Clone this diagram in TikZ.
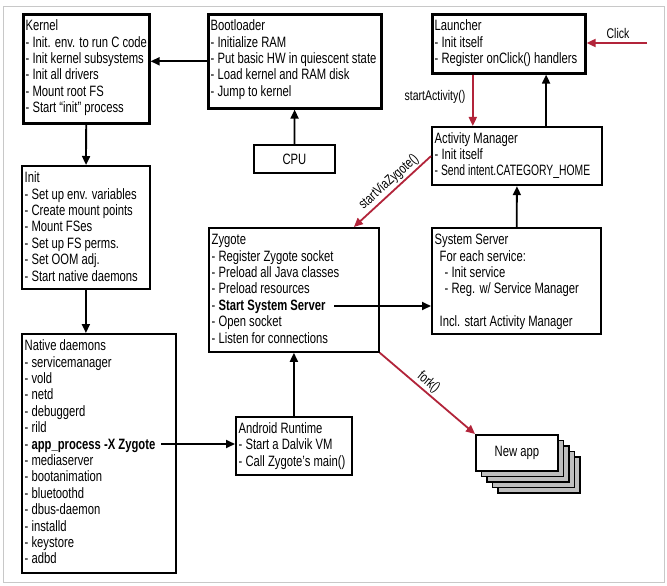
\documentclass[tikz,border=0pt]{standalone}
\usepackage{fontspec}
\usepackage{graphicx}
\setmainfont[FakeStretch=0.75]{Liberation Sans}
\usetikzlibrary{arrows.meta,calc}
\definecolor{cred}{RGB}{178,36,58}
\definecolor{framegray}{RGB}{200,200,200}
\definecolor{stackgray}{RGB}{190,190,190}
\newcommand{\fl}{\rule{0pt}{11bp}}
\begin{document}
\begin{tikzpicture}[x=1bp,y=-1bp,
  bx/.style={draw, inner sep=0pt, anchor=north west, line width=1.8bp},
  thickbx/.style={bx, line width=2.6bp},
  txt/.style={anchor=north west, inner sep=0pt, align=left, font=\fontsize{15bp}{16.4bp}\selectfont},
  ctxt/.style={font=\fontsize{15bp}{16.4bp}\selectfont},
  lbl/.style={inner sep=0pt, font=\fontsize{14bp}{16bp}\selectfont},
  arr/.style={line width=1.8bp, -{Triangle[length=9bp,width=8bp]}},
  rarr/.style={arr, draw=cred}]
\useasboundingbox (0,0) rectangle (667,586);
\fill[white] (0,0) rectangle (667,586);
\draw[framegray, line width=1bp] (3,7) rectangle (664,582);

% boxes
\node[thickbx, minimum width=126bp, minimum height=109bp] (kernel) at (22,13) {};
\node[thickbx, minimum width=173bp, minimum height=94bp] (boot) at (207,13) {};
\node[thickbx, minimum width=153bp, minimum height=59bp] (launcher) at (431,13) {};
\node[bx, line width=2.2bp, minimum width=170bp, minimum height=58bp] (am) at (431,126) {};
\node[bx, minimum width=128bp, minimum height=123bp] (init) at (21,165) {};
\node[bx, minimum width=81bp, minimum height=28bp, ctxt] (cpu) at (253,144) {CPU};
\node[bx, minimum width=170bp, minimum height=124bp] (zyg) at (208,227) {};
\node[bx, minimum width=169bp, minimum height=106bp] (ss) at (431,227) {};
\node[bx, minimum width=154bp, minimum height=239bp] (native) at (21,333) {};
\node[bx, minimum width=116bp, minimum height=58bp] (ar) at (235,416) {};
\foreach \k in {4,3,2,1}
  \node[bx, fill=stackgray, minimum width=82bp, minimum height=36bp] (app\k) at (475+5.5*\k,434+5.5*\k) {};
\node[bx, fill=white, minimum width=82bp, minimum height=36bp, ctxt] (app) at (475,434) {New app};

% texts
\node[txt] (kernelT) at (25.5,19.5) {\fl Kernel\\- Init. env. to run C code\\- Init kernel subsystems\\- Init all drivers\\- Mount root FS\\- Start “init” process};
\node[txt] (bootT) at (210.5,19.5) {\fl Bootloader\\- Initialize RAM\\- Put basic HW in quiescent state\\- Load kernel and RAM disk\\- Jump to kernel};
\node[txt] (launcherT) at (434.5,19.5) {\fl Launcher\\- Init itself\\- Register onClick() handlers};
\node[txt] (amT) at (434.5,132) {\fl Activity Manager\\- Init itself\\\scalebox{0.92}[1]{- Send intent.CATEGORY\_HOME}};
\node[txt] (initT) at (24.5,171.5) {\fl Init\\- Set up env. variables\\- Create mount points\\- Mount FSes\\- Set up FS perms.\\- Set OOM adj.\\- Start native daemons};
\node[txt] (zygT) at (211.5,233.5) {\fl Zygote\\- Register Zygote socket\\- Preload all Java classes\\- Preload resources\\- \textbf{Start System Server}\\- Open socket\\- Listen for connections};
\node[txt] (ssT) at (434.5,233.5) {\fl System Server\\\hspace*{5bp}For each service:\\\hspace*{10bp}- Init service\\\hspace*{10bp}- Reg. w/ Service Manager\\[16.4bp]\hspace*{5bp}Incl. start Activity Manager};
\node[txt] (nativeT) at (24.5,339.5) {\fl Native daemons\\- servicemanager\\- vold\\- netd\\- debuggerd\\- rild\\- \textbf{app\_process -X Zygote}\\- mediaserver\\- bootanimation\\- bluetoothd\\- dbus-daemon\\- installd\\- keystore\\- adbd};
\node[txt] (arT) at (238.5,422) {\fl Android Runtime\\- Start a Dalvik VM\\- Call Zygote’s main()};

% free ends
\coordinate (appEnd) at (161,444);
\coordinate (sssEnd) at (334,306);
\coordinate (click) at (647,43);

% black connectors
\draw[arr] (boot.west) -- (boot.west -| kernel.east);
\draw[arr] (kernel) -- (init);
\draw[arr] (init.south) -- (init.south |- native.north);
\draw[arr] (cpu) -- (boot);
\draw[arr] (appEnd) -- (appEnd -| ar.west);
\draw[arr] (ar.north) -- (ar.north |- zyg.south);
\draw[arr] (sssEnd) -- (sssEnd -| ss.west);
\draw[arr] (ss) -- (am);
\draw[arr] ([xshift=29bp]am.north) -- ([xshift=29bp]am.north |- launcher.south);

% red connectors
\draw[rarr] ([xshift=-36bp]launcher.south) -- ([xshift=-36bp]launcher.south |- am.north);
\draw[rarr] (click) -- (click -| launcher.east);
\draw[rarr] (am.west) -- ([xshift=60bp]zyg.north);
\draw[rarr] (zyg.south east) -- (app.north west);

% labels
\node[lbl] (saL) at (435,97) {startActivity()};
\node[lbl] (clickL) at (618,33) {Click};
\node[lbl, rotate=42] (svzL) at (389,182) {startViaZygote()};
\node[lbl, rotate=-40] (forkL) at (428.5,382.5) {fork()};
\end{tikzpicture}
\end{document}
